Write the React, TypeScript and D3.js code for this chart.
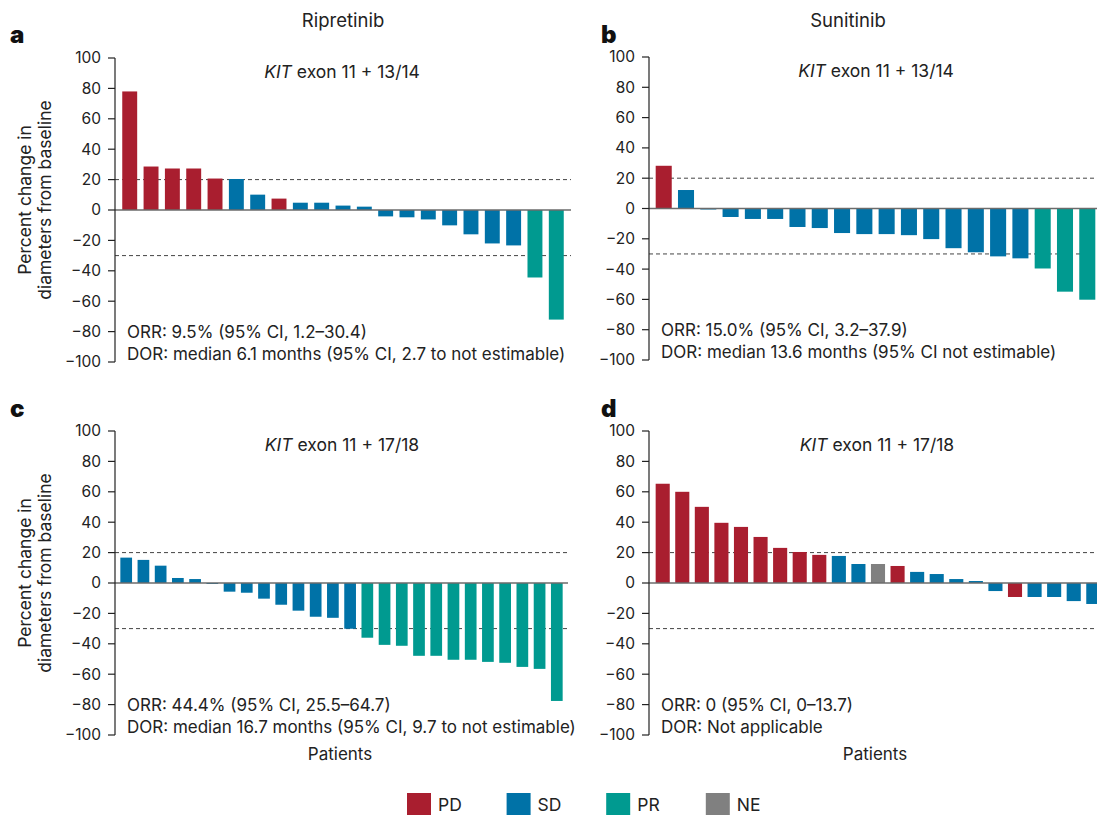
import React from "react";
import * as d3 from "d3";

// percent change from baseline, one value per patient, sorted as in the figure
const valuesA = [78, 28.6, 27.3, 27.3, 20.7, 20.4, 10.1, 7.5, 4.8, 4.8, 2.9, 2.2, -4.2, -4.8, -6.2, -10.1, -16, -22, -23.3, -44.4, -72.1];
const statusA = ["PD", "PD", "PD", "PD", "PD", "SD", "SD", "PD", "SD", "SD", "SD", "SD", "SD", "SD", "SD", "SD", "SD", "SD", "SD", "PR", "PR"];

const valuesB = [28.2, 12.2, -0.4, -5.6, -6.9, -6.9, -12.2, -12.9, -16.2, -16.9, -16.9, -17.6, -20.2, -26.2, -28.9, -31.6, -32.9, -39.6, -54.9, -60.2];
const statusB = ["PD", "SD", "SD", "SD", "SD", "SD", "SD", "SD", "SD", "SD", "SD", "SD", "SD", "SD", "SD", "SD", "SD", "PR", "PR", "PR"];

const valuesC = [16.7, 15.2, 11.4, 3.3, 2.6, -0.3, -5.7, -6.4, -10.3, -14.3, -18.2, -22.2, -22.9, -30.1, -36, -40.7, -41.3, -47.9, -47.9, -50.5, -50.5, -51.9, -52.5, -55.2, -56.5, -77.6];
const statusC = ["SD", "SD", "SD", "SD", "SD", "SD", "SD", "SD", "SD", "SD", "SD", "SD", "SD", "SD", "PR", "PR", "PR", "PR", "PR", "PR", "PR", "PR", "PR", "PR", "PR", "PR"];

const valuesD = [65.3, 60, 50.1, 39.6, 36.9, 30.3, 23.1, 20.4, 18.5, 17.8, 12.5, 12.5, 11.2, 7.3, 5.9, 2.6, 1.3, -5.3, -9.2, -9.2, -9.2, -11.9, -13.8];
const statusD = ["PD", "PD", "PD", "PD", "PD", "PD", "PD", "PD", "PD", "SD", "SD", "NE", "PD", "SD", "SD", "SD", "SD", "SD", "PD", "SD", "SD", "SD", "SD"];

const yTicks = [100, 80, 60, 40, 20, 0, -20, -40, -60, -80, -100];
const thresholds = [20, -30];
const legendKeys = ["PD", "SD", "PR", "NE"];

const colors: Record<string, string> = {
  PD: "#a91e2f",
  SD: "#0072a7",
  PR: "#009a90",
  NE: "#808080",
};

const FONT = "Inter, 'Noto Sans', sans-serif";
const INK = "#222";

type PanelProps = {
  values: number[];
  status: string[];
  x0: number;
  x1: number;
  yTop: number;
  yBot: number;
  pi: number;
  po: number;
  cx: number;
  subtitle: string;
  orr: string;
  dor: string;
  patients?: boolean;
};

function Panel(p: PanelProps) {
  const x = d3
    .scaleBand<number>()
    .domain(d3.range(p.values.length))
    .range([p.x0, p.x1])
    .paddingInner(p.pi)
    .paddingOuter(p.po);
  const y = d3.scaleLinear().domain([-100, 100]).range([p.yBot, p.yTop]);

  return (
    <g>
      {/* response thresholds */}
      {thresholds.map((t) => (
        <line key={t} x1={p.x0} x2={p.x1} y1={y(t)} y2={y(t)} stroke="#444" strokeWidth={1} strokeDasharray="4,3" />
      ))}
      {p.values.map((v, i) => (
        <rect
          key={i}
          x={x(i)}
          width={x.bandwidth()}
          y={Math.min(y(v), y(0))}
          height={Math.max(Math.abs(y(v) - y(0)), 1)}
          fill={colors[p.status[i]]}
        />
      ))}
      <line x1={p.x0} x2={p.x1} y1={y(0)} y2={y(0)} stroke="#6b6b6b" strokeWidth={1.5} />
      {/* y axis */}
      <line x1={p.x0} x2={p.x0} y1={p.yTop} y2={p.yBot} stroke={INK} strokeWidth={1.2} />
      {yTicks.map((t) => (
        <g key={t}>
          <line x1={p.x0 - 7} x2={p.x0} y1={y(t)} y2={y(t)} stroke={INK} strokeWidth={1.2} />
          <text x={p.x0 - 14} y={y(t)} dy="0.35em" textAnchor="end" fontSize={15.5} fill={INK}>
            {t < 0 ? "\u2212" + Math.abs(t) : t}
          </text>
        </g>
      ))}
      <text x={p.cx} y={p.yTop + 20} textAnchor="middle" fontSize={17.5} fill={INK}>
        <tspan fontStyle="italic">KIT</tspan>
        {" " + p.subtitle}
      </text>
      <text x={p.x0 + 12} y={y(-84)} fontSize={17} fill={INK}>
        {p.orr}
      </text>
      <text x={p.x0 + 12} y={y(-98.5)} fontSize={17} fill={INK}>
        {p.dor}
      </text>
      {p.patients && (
        <text x={p.cx - 2} y={p.yBot + 25} textAnchor="middle" fontSize={17} fill={INK}>
          Patients
        </text>
      )}
    </g>
  );
}

function YLabel({ cy }: { cy: number }) {
  return (
    <text transform={`translate(37,${cy}) rotate(-90)`} textAnchor="middle" fontSize={17.5} fill={INK}>
      <tspan x={0} dy="-0.35em">Percent change in</tspan>
      <tspan x={0} dy="1.15em">diameters from baseline</tspan>
    </text>
  );
}

export default function App() {
  return (
    <svg
      width={1097}
      height={815}
      style={{ position: "absolute", left: 0, top: 0, background: "#fff" }}
      fontFamily={FONT}
    >
      <text x={343} y={27} textAnchor="middle" fontSize={18.5} fill={INK}>Ripretinib</text>
      <text x={848} y={27} textAnchor="middle" fontSize={18.5} fill={INK}>Sunitinib</text>

      <text x={10} y={43} fontSize={24} fontWeight={900} fill="#111">a</text>
      <text x={601} y={43} fontSize={24} fontWeight={900} fill="#111">b</text>
      <text x={10} y={417} fontSize={24} fontWeight={900} fill="#111">c</text>
      <text x={601} y={417} fontSize={24} fontWeight={900} fill="#111">d</text>

      <YLabel cy={200} />
      <YLabel cy={573} />

      <Panel
        values={valuesA}
        status={statusA}
        x0={115}
        x1={571}
        yTop={58}
        yBot={362}
        pi={0.3}
        po={0.34}
        cx={342}
        subtitle="exon 11 + 13/14"
        orr="ORR: 9.5% (95% CI, 1.2–30.4)"
        dor="DOR: median 6.1 months (95% CI, 2.7 to not estimable)"
      />
      <Panel
        values={valuesB}
        status={statusB}
        x0={649}
        x1={1102}
        yTop={57}
        yBot={360}
        pi={0.28}
        po={0.3}
        cx={876}
        subtitle="exon 11 + 13/14"
        orr="ORR: 15.0% (95% CI, 3.2–37.9)"
        dor="DOR: median 13.6 months (95% CI not estimable)"
      />
      <Panel
        values={valuesC}
        status={statusC}
        x0={115}
        x1={568}
        yTop={431}
        yBot={735}
        pi={0.32}
        po={0.31}
        cx={342}
        subtitle="exon 11 + 17/18"
        orr="ORR: 44.4% (95% CI, 25.5–64.7)"
        dor="DOR: median 16.7 months (95% CI, 9.7 to not estimable)"
        patients
      />
      <Panel
        values={valuesD}
        status={statusD}
        x0={649}
        x1={1107}
        yTop={431}
        yBot={735}
        pi={0.28}
        po={0.34}
        cx={877}
        subtitle="exon 11 + 17/18"
        orr="ORR: 0 (95% CI, 0–13.7)"
        dor="DOR: Not applicable"
        patients
      />

      {legendKeys.map((k, i) => (
        <g key={k} transform={`translate(${407 + i * 99.6},793)`}>
          <rect width={24} height={22} fill={colors[k]} />
          <text x={31} y={18} fontSize={17.5} fill={INK}>{k}</text>
        </g>
      ))}
    </svg>
  );
}
